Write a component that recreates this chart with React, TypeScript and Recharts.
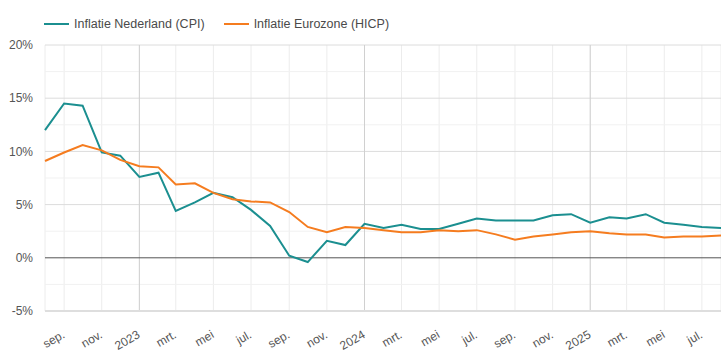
import React from 'react';
import { LineChart, Line, XAxis, YAxis, CartesianGrid, ReferenceLine, Legend } from 'recharts';

const months: string[] = [
  '2022-08', '2022-09', '2022-10', '2022-11', '2022-12',
  '2023-01', '2023-02', '2023-03', '2023-04', '2023-05', '2023-06', '2023-07', '2023-08', '2023-09', '2023-10', '2023-11', '2023-12',
  '2024-01', '2024-02', '2024-03', '2024-04', '2024-05', '2024-06', '2024-07', '2024-08', '2024-09', '2024-10', '2024-11', '2024-12',
  '2025-01', '2025-02', '2025-03', '2025-04', '2025-05', '2025-06', '2025-07', '2025-08',
];

const nlCpi: number[] = [
  12.0, 14.5, 14.3, 9.9, 9.6,
  7.6, 8.0, 4.4, 5.2, 6.1, 5.7, 4.5, 3.0, 0.2, -0.4, 1.6, 1.2,
  3.2, 2.8, 3.1, 2.7, 2.7, 3.2, 3.7, 3.5, 3.5, 3.5, 4.0, 4.1,
  3.3, 3.8, 3.7, 4.1, 3.3, 3.1, 2.9, 2.8,
];

const ezHicp: number[] = [
  9.1, 9.9, 10.6, 10.1, 9.2,
  8.6, 8.5, 6.9, 7.0, 6.1, 5.5, 5.3, 5.2, 4.3, 2.9, 2.4, 2.9,
  2.8, 2.6, 2.4, 2.4, 2.6, 2.5, 2.6, 2.2, 1.7, 2.0, 2.2, 2.4,
  2.5, 2.3, 2.2, 2.2, 1.9, 2.0, 2.0, 2.1,
];

const tickMonths: string[] = [
  '2022-09', '2022-11', '2023-01', '2023-03', '2023-05', '2023-07', '2023-09', '2023-11',
  '2024-01', '2024-03', '2024-05', '2024-07', '2024-09', '2024-11',
  '2025-01', '2025-03', '2025-05', '2025-07',
];
const tickLabels: string[] = [
  'sep.', 'nov.', '2023', 'mrt.', 'mei', 'jul.', 'sep.', 'nov.',
  '2024', 'mrt.', 'mei', 'jul.', 'sep.', 'nov.',
  '2025', 'mrt.', 'mei', 'jul.',
];
const yearMonths: string[] = ['2023-01', '2024-01', '2025-01'];
const yTicks: number[] = [-5, 0, 5, 10, 15, 20];
const yMinor: number[] = [-2.5, 2.5, 7.5, 12.5, 17.5];

const seriesNames = ['Inflatie Nederland (CPI)', 'Inflatie Eurozone (HICP)'];
const COLORS = ['#1b8f90', '#f57c1f'];

const toTs = (m: string) => Date.UTC(Number(m.slice(0, 4)), Number(m.slice(5, 7)) - 1, 1);

const data = months.map((m, i) => ({ t: toTs(m), nl: nlCpi[i], ez: ezHicp[i] }));
const xTicks = tickMonths.map(toTs);
const labelMap: Record<number, string> = {};
xTicks.forEach((t, i) => { labelMap[t] = tickLabels[i]; });

const XTick = (props: any) => {
  const { x, y, payload } = props;
  return (
    <text
      x={x + 1.5}
      y={y + 18}
      transform={`rotate(-30, ${x + 1.5}, ${y + 18})`}
      textAnchor="end"
      fontSize={12}
      fill="#555"
      fontFamily="Liberation Sans, Arial, sans-serif"
    >
      {labelMap[payload.value]}
    </text>
  );
};

const LegendContent = () => (
  <div style={{ display: 'flex', fontFamily: 'Liberation Sans, Arial, sans-serif', fontSize: 12.5, color: '#4a4a4a' }}>
    {seriesNames.map((n, i) => (
      <div key={n} style={{ display: 'flex', alignItems: 'center', marginRight: 19 }}>
        <div style={{ width: 25, height: 2, background: COLORS[i], marginRight: 5 }} />
        <span>{n}</span>
      </div>
    ))}
  </div>
);

export default function App() {
  return (
    <div style={{ position: 'absolute', left: 0, top: 0, width: 721, height: 356, background: '#fff' }}>
      <LineChart
        width={721}
        height={356}
        data={data}
        margin={{ top: 45, right: 0, bottom: 0, left: 0 }}
      >
        <CartesianGrid stroke="#ececec" horizontal={false} />
        {yMinor.map((v) => (
          <ReferenceLine key={`m${v}`} y={v} stroke="#f1f1f1" />
        ))}
        {yTicks.filter((v) => v !== 0 && v !== -5).map((v) => (
          <ReferenceLine key={`y${v}`} y={v} stroke="#dcdcdc" />
        ))}
        {yearMonths.map((m) => (
          <ReferenceLine key={m} x={toTs(m)} stroke="#d0d0d0" />
        ))}
        <ReferenceLine y={0} stroke="#555" />
        <XAxis
          dataKey="t"
          type="number"
          scale="time"
          domain={[toTs('2022-08'), toTs('2025-08')]}
          ticks={xTicks}
          interval={0}
          height={45}
          tick={<XTick />}
          tickLine={false}
          axisLine={{ stroke: '#dedede', strokeWidth: 2 }}
        />
        <YAxis
          domain={[-5, 20]}
          ticks={yTicks}
          width={45}
          tickFormatter={(v: number) => `${v}%`}
          tick={{ fontSize: 12, fill: '#555', fontFamily: 'Liberation Sans, Arial, sans-serif' }}
          tickLine={false}
          axisLine={false}
          tickSize={6}
          tickMargin={6}
        />
        <Legend
          layout="horizontal"
          verticalAlign="middle"
          align="center"
          content={<LegendContent />}
          wrapperStyle={{ top: 17, left: 44, width: 'auto' }}
        />
        <Line type="linear" dataKey="nl" name={seriesNames[0]} stroke={COLORS[0]} strokeWidth={2} dot={false} isAnimationActive={false} />
        <Line type="linear" dataKey="ez" name={seriesNames[1]} stroke={COLORS[1]} strokeWidth={2} dot={false} isAnimationActive={false} />
      </LineChart>
    </div>
  );
}
